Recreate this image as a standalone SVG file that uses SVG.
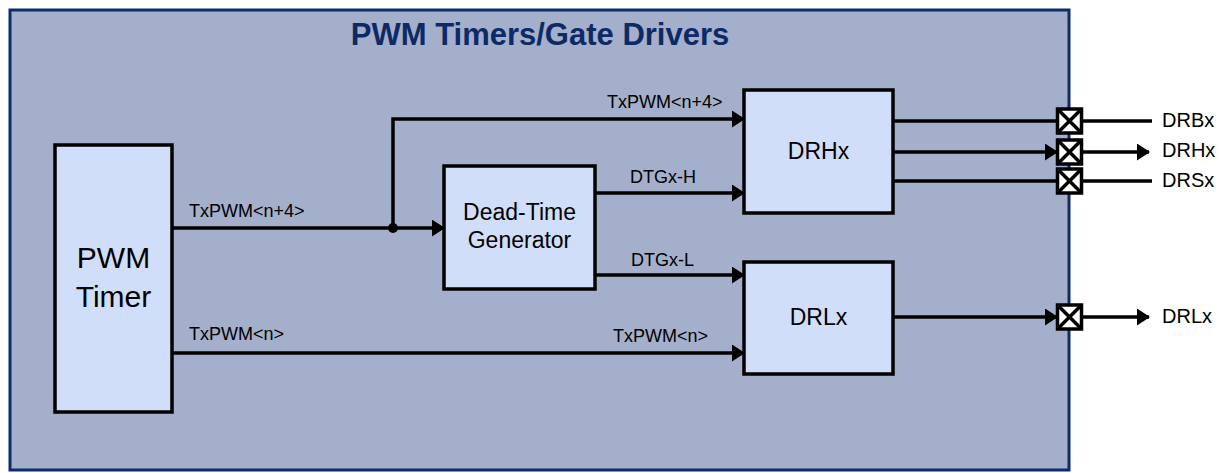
<svg xmlns="http://www.w3.org/2000/svg" width="1220" height="473" viewBox="0 0 1220 473">
<defs>
<marker id="arr" markerWidth="13" markerHeight="17" refX="12" refY="8.5" orient="auto" markerUnits="userSpaceOnUse">
<path d="M0,0 L13,8.5 L0,17 Z" fill="#000"/>
</marker>
<g id="pad">
<rect x="-12" y="-12" width="24" height="24" fill="#fff" stroke="#000" stroke-width="3.5"/>
<path d="M-12,-12 L12,12 M12,-12 L-12,12" stroke="#000" stroke-width="3.5"/>
</g>
</defs>
<style>
.blk{fill:#D1DEFA;stroke:#000;stroke-width:3.5}
.ln{fill:none;stroke:#000;stroke-width:3.5}
.lb{font-family:"Liberation Sans",Arial,sans-serif;font-size:18px;fill:#000}
.bt{font-family:"Liberation Sans",Arial,sans-serif;fill:#000;text-anchor:middle}
.ot{font-family:"Liberation Sans",Arial,sans-serif;font-size:20px;fill:#000}
</style>
<rect width="1220" height="473" fill="#fff"/>
<g id="container">
<rect x="10" y="10" width="1059" height="460" fill="#A4AFCB" stroke="#0F2C6A" stroke-width="3"/>
<text x="540" y="45" font-family="Liberation Sans,Arial,sans-serif" font-size="31" font-weight="bold" fill="#0E2A66" text-anchor="middle">PWM Timers/Gate Drivers</text>
</g>
<g id="connectors">
<path class="ln" d="M172,228 L444,228" marker-end="url(#arr)"/>
<path class="ln" d="M393,228 L393,119 L744,119" marker-end="url(#arr)"/>
<circle cx="393" cy="228" r="5" fill="#000"/>
<path class="ln" d="M595,193 L744,193" marker-end="url(#arr)"/>
<path class="ln" d="M595,275 L744,275" marker-end="url(#arr)"/>
<path class="ln" d="M172,353 L744,353" marker-end="url(#arr)"/>
<path class="ln" d="M893,121 L1057,121"/>
<path class="ln" d="M893,152 L1057,152" marker-end="url(#arr)"/>
<path class="ln" d="M893,181 L1057,181"/>
<path class="ln" d="M893,317 L1057,317" marker-end="url(#arr)"/>
<path class="ln" d="M1082,121 L1152,121"/>
<path class="ln" d="M1082,152 L1149,152" marker-end="url(#arr)"/>
<path class="ln" d="M1082,181 L1152,181"/>
<path class="ln" d="M1082,317 L1149,317" marker-end="url(#arr)"/>
<text class="lb" x="189" y="217">TxPWM&lt;n+4&gt;</text>
<text class="lb" x="189" y="340">TxPWM&lt;n&gt;</text>
<text class="lb" x="607" y="108">TxPWM&lt;n+4&gt;</text>
<text class="lb" x="630" y="183">DTGx-H</text>
<text class="lb" x="631" y="266">DTGx-L</text>
<text class="lb" x="613" y="342">TxPWM&lt;n&gt;</text>
</g>
<g id="pwm-timer">
<rect class="blk" x="55" y="145" width="117" height="267"/>
<text class="bt" x="113.5" y="268" font-size="30">PWM</text>
<text class="bt" x="113.5" y="307" font-size="30">Timer</text>
</g>
<g id="dead-time-generator">
<rect class="blk" x="444" y="166" width="151" height="123"/>
<text class="bt" x="519.5" y="220" font-size="23">Dead-Time</text>
<text class="bt" x="519.5" y="248" font-size="23">Generator</text>
</g>
<g id="drhx">
<rect class="blk" x="744" y="90" width="149" height="123"/>
<text class="bt" x="818.5" y="159" font-size="23">DRHx</text>
</g>
<g id="drlx">
<rect class="blk" x="744" y="262" width="149" height="112"/>
<text class="bt" x="818.5" y="325" font-size="23">DRLx</text>
</g>
<g id="pad-drbx"><use href="#pad" x="1069.5" y="121"/><text class="ot" x="1162" y="127">DRBx</text></g>
<g id="pad-drhx"><use href="#pad" x="1069.5" y="152"/><text class="ot" x="1162" y="157">DRHx</text></g>
<g id="pad-drsx"><use href="#pad" x="1069.5" y="181"/><text class="ot" x="1162" y="187">DRSx</text></g>
<g id="pad-drlx"><use href="#pad" x="1069.5" y="317"/><text class="ot" x="1162" y="323">DRLx</text></g>
</svg>
